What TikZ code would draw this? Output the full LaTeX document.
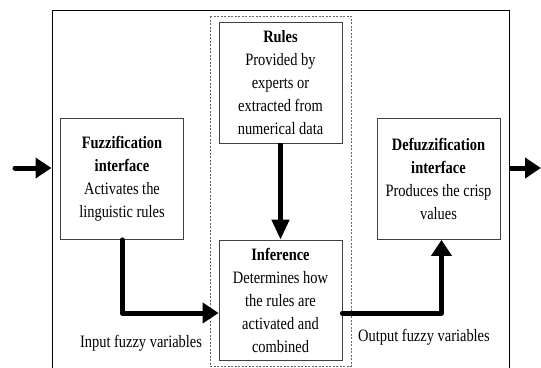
\documentclass[tikz,border=0pt]{standalone}
\usepackage{fontspec}
\setmainfont[FakeStretch=0.83]{Liberation Serif}
\usetikzlibrary{arrows.meta}

\begin{document}
\begin{tikzpicture}[x=1pt, y=-1pt,
    bloc/.style={draw=black!75, line width=0.8pt, inner sep=0pt, align=center,
                 minimum width=123pt, minimum height=121pt,
                 font=\fontsize{17.4}{23}\selectfont},
    fleche/.style={line width=5pt, -{Triangle[length=16pt, width=20pt]}},
    legende/.style={font=\fontsize{17.4}{20}\selectfont}]
        \useasboundingbox (0,0) rectangle (541,367);

        % Cadre du système
        \node[draw, line width=1pt, minimum width=457pt, minimum height=362pt, inner sep=0pt] (cadre) at (280.5,191) {};

        % Zone pointillée autour des règles et de l'inférence
        \draw[dashed, dash pattern=on 2pt off 1.5pt, black!60, line width=0.8pt] (210,16) rectangle (351,366);

        % Les quatre blocs
        \node[bloc] (fuzz) at (122,179) {\textbf{Fuzzification}\\\textbf{interface}\\Activates the\\linguistic rules};
        \node[bloc] (defuzz) at (438.5,179) {\textbf{Defuzzification}\\\textbf{interface}\\Produces the crisp\\values};
        \node[bloc] (regles) at (280.5,82.5) {\textbf{Rules}\\Provided by\\experts or\\extracted from\\numerical data};
        \node[bloc, minimum height=120pt] (inference) at (280.5,300) {\textbf{Inference}\\Determines how\\the rules are\\activated and\\combined};

        % Entrée et sortie
        \coordinate (entree) at (15,168);
        \coordinate (sortie) at (541,168);
        \draw[fleche, line cap=round] (entree) -- (entree -| cadre.west);
        \draw[fleche] (sortie -| cadre.east) -- (sortie);

        % Liaisons entre les blocs
        \draw[line width=4.5pt, -{Triangle[length=20pt, width=17pt]}] (regles) -- (inference);
        \draw[fleche, line cap=round, line join=round] (fuzz.south) |- ([yshift=-13pt]inference.west);
        \draw[fleche, line cap=round, line join=round] ([yshift=-13pt]inference.east) -| ([xshift=3pt]defuzz.south);

        % Variables floues
        \node[legende] (varin) at (141,343) {Input fuzzy variables};
        \node[legende] (varout) at (424,337) {Output fuzzy variables};

    \end{tikzpicture}
\end{document}
